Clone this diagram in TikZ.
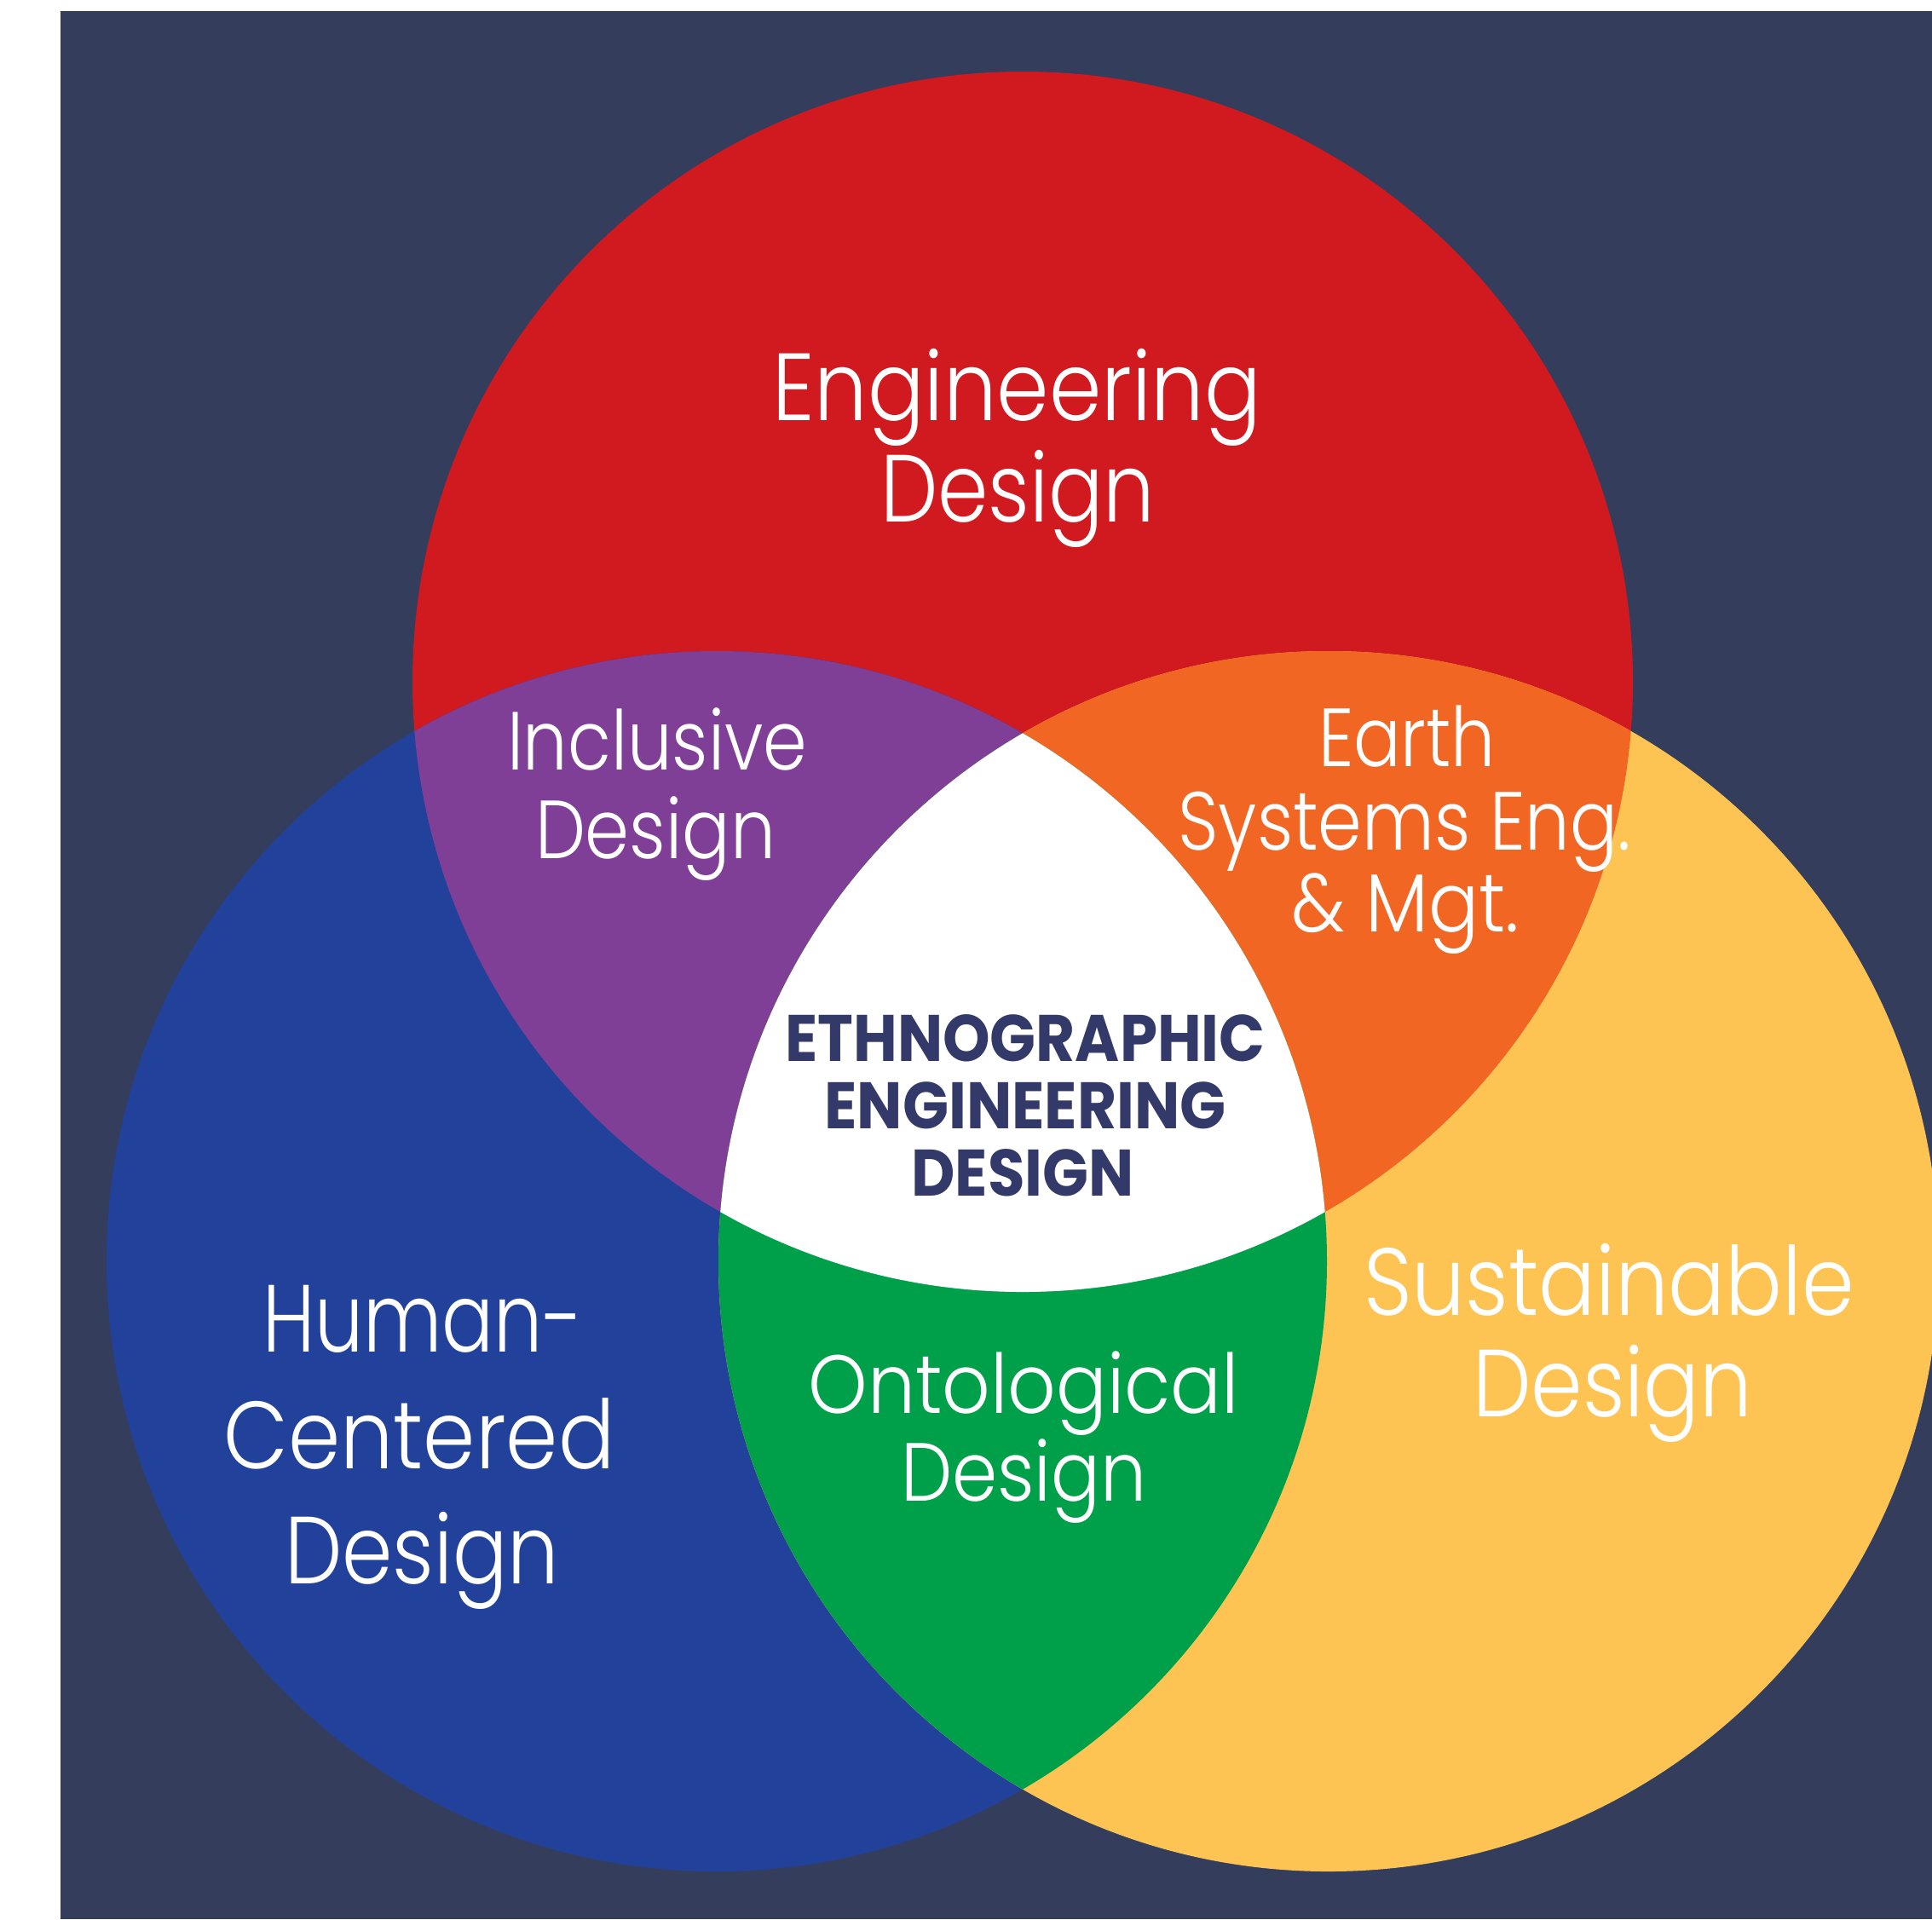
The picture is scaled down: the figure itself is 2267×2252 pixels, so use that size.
\documentclass[tikz,border=0pt]{standalone}
\usepackage{fontspec}
\usepackage{graphicx}
\IfFontExistsTF{Poppins Light}{\newfontfamily\lightfont{Poppins Light}}{\newfontfamily\lightfont{Poppins}}
\IfFontExistsTF{Poppins Bold}{\newfontfamily\heavyfont{Poppins Bold}}{\newfontfamily\heavyfont{Poppins}[FakeBold=2]}
\definecolor{bg}{HTML}{343E5C}
\definecolor{cred}{HTML}{D11920}
\definecolor{cblue}{HTML}{22419A}
\definecolor{cyellow}{HTML}{FDC353}
\definecolor{cpurple}{HTML}{7F3F97}
\definecolor{corange}{HTML}{F26624}
\definecolor{cgreen}{HTML}{00A04B}
\definecolor{cnavy}{HTML}{333A6A}
\newdimen\upx \upx=0.25pt
\newcommand\fitw[2]{\resizebox{#1\upx}{\height}{#2}}
\tikzset{
  lbl/.style={text=white, anchor=base, inner sep=0pt},
  ctr/.style={text=cnavy, anchor=base, inner sep=0pt, font=\heavyfont\fontsize{19.3}{23}\selectfont},
  big/.style={lbl, font=\lightfont\fontsize{28}{33}\selectfont},
  mid/.style={lbl, font=\lightfont\fontsize{24.2}{29}\selectfont},
  ring/.style={radius=179pt}
}
\begin{document}
\begin{tikzpicture}[x=0.25pt,y=-0.25pt]
\useasboundingbox (0,0) rectangle (2267,2252);
\fill[white] (0,0) rectangle (2267,2252);
\fill[bg] (71,13) rectangle (2267,2252);
\coordinate (R) at (1200,800);
\coordinate (B) at (841,1480);
\coordinate (Y) at (1559,1480);
\fill[cred] (R) circle[ring];
\fill[cblue] (B) circle[ring];
\fill[cyellow] (Y) circle[ring];
\begin{scope}
  \clip (R) circle[ring];
  \fill[cpurple] (B) circle[ring];
  \fill[corange] (Y) circle[ring];
\end{scope}
\begin{scope}
  \clip (B) circle[ring];
  \fill[cgreen] (Y) circle[ring];
\end{scope}
\begin{scope}
  \clip (R) circle[ring];
  \clip (B) circle[ring];
  \fill[white] (Y) circle[ring];
\end{scope}
% Engineering Design
\node[big] (ed1) at (1193,493) {\fitw{574}{Engineering}};
\node[big] (ed2) at (1194,612) {\fitw{322}{Design}};
% Inclusive Design
\node[mid] (id1) at (771,903) {\fitw{352}{Inclusive}};
\node[mid] (id2) at (769,1007) {\fitw{282}{Design}};
% Earth Systems
\node[mid] (es1) at (1651,899) {\fitw{208}{Earth}};
\node[mid] (es2) at (1648,997) {\fitw{531}{Systems Eng.}};
\node[mid] (es3) at (1649,1093) {\fitw{267}{\& Mgt.}};
% Center
\node[ctr] (c1) at (1203,1245) {\fitw{563}{ETHNOGRAPHIC}};
\node[ctr] (c2) at (1203,1324) {\fitw{471}{ENGINEERING}};
\node[ctr] (c3) at (1200,1403) {\fitw{261}{DESIGN}};
% Human-Centered Design
\node[big] (hc1) at (496,1586) {\fitw{376}{Human-}};
\node[big] (hc2) at (492,1723) {\fitw{459}{Centered}};
\node[big] (hc3) at (495,1858) {\fitw{322}{Design}};
% Sustainable Design
\node[big] (sd1) at (1888,1543) {\fitw{576}{Sustainable}};
\node[big] (sd2) at (1892,1662) {\fitw{328}{Design}};
% Ontological Design
\node[mid] (od1) at (1201,1658) {\fitw{505}{Ontological}};
\node[mid] (od2) at (1201,1761) {\fitw{288}{Design}};
\end{tikzpicture}
\end{document}
